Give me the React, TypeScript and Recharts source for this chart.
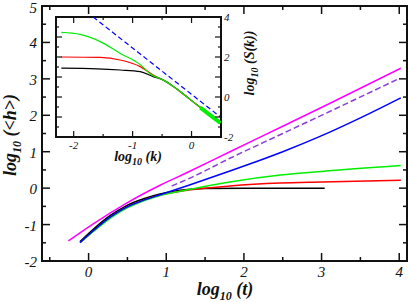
import React from 'react';
import { LineChart, Line, XAxis, YAxis, ReferenceArea } from 'recharts';

// ---------- main plot data: log10(t) vs log10(<h>) ----------
const magentaT = [-0.26, 0.06, 0.49, 0.92, 1.29, 1.82, 2.5, 3.11, 4.02];
const magentaH = [-1.45, -0.98, -0.41, 0.08, 0.45, 1.0, 1.7, 2.33, 3.29];
const purpleT = [1.07, 1.29, 1.82, 2.5, 3.2, 4.0];
const purpleH = [0.06, 0.26, 0.82, 1.5, 2.2, 3.01];
const blueT = [-0.11, 0.06, 0.28, 0.49, 0.71, 0.92, 1.29, 1.82, 2.2, 2.5, 2.98, 3.5, 4.02];
const blueH = [-1.49, -1.17, -0.79, -0.52, -0.33, -0.18, 0.08, 0.47, 0.76, 1.0, 1.42, 1.93, 2.48];
const greenT = [-0.11, 0.06, 0.28, 0.49, 0.71, 0.92, 1.29, 1.82, 2.47, 3.0, 4.02];
const greenH = [-1.5, -1.19, -0.82, -0.55, -0.35, -0.2, -0.04, 0.17, 0.36, 0.46, 0.62];
const redT = [-0.11, 0.06, 0.28, 0.49, 0.71, 0.92, 1.29, 1.82, 2.47, 3.0, 4.02];
const redH = [-1.5, -1.18, -0.8, -0.53, -0.33, -0.19, -0.05, 0.06, 0.14, 0.17, 0.22];
const blackT = [-0.11, 0.06, 0.28, 0.49, 0.71, 0.92, 1.18, 1.5, 2.0, 3.04];
const blackH = [-1.47, -1.13, -0.75, -0.48, -0.29, -0.16, -0.06, -0.01, 0.0, 0.0];

const mainXTicks = [-0.5, 0, 0.5, 1, 1.5, 2, 2.5, 3, 3.5, 4];
const mainYTicks = [-2, -1.5, -1, -0.5, 0, 0.5, 1, 1.5, 2, 2.5, 3, 3.5, 4, 4.5, 5];

// ---------- inset data: log10(k) vs log10(S(k)) ----------
const kBlack = [-2.21, -1.6, -1.21, -0.87, -0.65, -0.5, -0.25, 0, 0.25, 0.49];
const sBlack = [1.44, 1.41, 1.35, 1.27, 1.02, 0.88, 0.4, -0.18, -0.75, -1.3];
const kRed = [-2.21, -1.55, -1.21, -0.87, -0.65, -0.5, -0.25, 0, 0.25, 0.49];
const sRed = [2.0, 1.98, 1.85, 1.52, 1.1, 0.88, 0.4, -0.18, -0.75, -1.3];
const kGreen = [-2.21, -1.89, -1.55, -1.21, -0.87, -0.7, -0.5, -0.25, 0, 0.25, 0.49];
const sGreen = [3.23, 3.13, 2.77, 2.18, 1.62, 1.15, 0.88, 0.4, -0.18, -0.75, -1.3];
const kGreenTail = [0.15, 0.3, 0.49];
const sGreenTail = [-0.53, -0.87, -1.3];
const kBlueDash = [-1.67, 0.49];
const sBlueDash = [4.0, -1.0];

const insetXTicks = [-2, -1.5, -1, -0.5, 0];
const insetYTicks = [-2, -1.5, -1, -0.5, 0, 0.5, 1, 1.5, 2, 2.5, 3, 3.5, 4];

const zip = (xs: number[], ys: number[]) => xs.map((x, i) => ({ x, y: ys[i] }));

const FONT = '"Liberation Serif", "Times New Roman", serif';
const INK = '#111';

// main plot area (layout)
const M = { left: 42, right: 407, top: 6, bottom: 261 };
// inset plot area in inset-local coords
const I = { left: 16, right: 181, top: 7, bottom: 127 };

const isMajor = (v: number) => Number.isInteger(v);

const MainXTick = (props: any) => {
  const { x, payload } = props;
  const v = payload.value;
  const len = isMajor(v) ? 8 : 4;
  return (
    <g>
      <line x1={x} x2={x} y1={M.bottom} y2={M.bottom - len} stroke={INK} strokeWidth={1.5} />
      <line x1={x} x2={x} y1={M.top} y2={M.top + len} stroke={INK} strokeWidth={1.5} />
      {isMajor(v) && (
        <text x={x} y={M.bottom + 16} textAnchor="middle" fontFamily={FONT} fontStyle="italic" fontSize={15} fill={INK}>
          {String(v)}
        </text>
      )}
    </g>
  );
};

const MainYTick = (props: any) => {
  const { y, payload } = props;
  const v = payload.value;
  const len = isMajor(v) ? 8 : 4;
  return (
    <g>
      <line x1={M.left} x2={M.left + len} y1={y} y2={y} stroke={INK} strokeWidth={1.5} />
      <line x1={M.right} x2={M.right - len} y1={y} y2={y} stroke={INK} strokeWidth={1.5} />
      {isMajor(v) && (
        <text x={37} y={Math.max(y + 6, 13)} textAnchor="end" fontFamily={FONT} fontStyle="italic" fontSize={15} fill={INK}>
          {String(v)}
        </text>
      )}
    </g>
  );
};

const InsetXTick = (props: any) => {
  const { x, payload } = props;
  const v = payload.value;
  const len = isMajor(v) ? 6 : 3;
  return (
    <g>
      <line x1={x} x2={x} y1={I.bottom} y2={I.bottom - len} stroke={INK} strokeWidth={1.2} />
      <line x1={x} x2={x} y1={I.top} y2={I.top + len} stroke={INK} strokeWidth={1.2} />
      {isMajor(v) && (
        <text x={x} y={I.bottom + 12} textAnchor="middle" fontFamily={FONT} fontStyle="italic" fontSize={11} fill={INK}>
          {String(v)}
        </text>
      )}
    </g>
  );
};

const InsetYTick = (props: any) => {
  const { y, payload } = props;
  const v = payload.value;
  const major = isMajor(v);
  const len = major ? 6 : 3;
  return (
    <g>
      <line x1={I.left} x2={I.left + len} y1={y} y2={y} stroke={INK} strokeWidth={1.2} />
      <line x1={I.right} x2={I.right - len} y1={y} y2={y} stroke={INK} strokeWidth={1.2} />
      {major && v % 2 === 0 && (
        <text x={I.right + 3} y={y + 4} textAnchor="start" fontFamily={FONT} fontStyle="italic" fontSize={11} fill={INK}>
          {String(v)}
        </text>
      )}
    </g>
  );
};

export default function App() {
  return (
    <div style={{ position: 'absolute', left: 0, top: 0, width: 409, height: 302, background: '#fff' }}>
      <div style={{ position: 'absolute', left: 0, top: 0 }}>
        <LineChart width={409} height={302} margin={{ top: M.top, right: 409 - M.right, left: 0, bottom: 0 }}>
          <XAxis
            dataKey="x"
            type="number"
            domain={[-0.6, 4.1]}
            ticks={mainXTicks}
            interval={0}
            height={302 - M.bottom}
            axisLine={false}
            tickLine={false}
            tick={<MainXTick />}
            allowDataOverflow
          />
          <YAxis
            dataKey="y"
            type="number"
            domain={[-2, 5]}
            ticks={mainYTicks}
            interval={0}
            width={M.left}
            axisLine={false}
            tickLine={false}
            tick={<MainYTick />}
            allowDataOverflow
          />
          <Line data={zip(blackT, blackH)} dataKey="y" type="monotone" stroke="#000" strokeWidth={1.5} dot={false} isAnimationActive={false} />
          <Line data={zip(redT, redH)} dataKey="y" type="monotone" stroke="#ff0000" strokeWidth={1.5} dot={false} isAnimationActive={false} />
          <Line data={zip(greenT, greenH)} dataKey="y" type="monotone" stroke="#00ee00" strokeWidth={1.5} dot={false} isAnimationActive={false} />
          <Line data={zip(blueT, blueH)} dataKey="y" type="monotone" stroke="#0000ff" strokeWidth={1.5} dot={false} isAnimationActive={false} />
          <Line data={zip(purpleT, purpleH)} dataKey="y" type="monotone" stroke="#8a3ed8" strokeWidth={1.5} strokeDasharray="6 3" dot={false} isAnimationActive={false} />
          <Line data={zip(magentaT, magentaH)} dataKey="y" type="monotone" stroke="#ff00ff" strokeWidth={1.5} dot={false} isAnimationActive={false} />
          <ReferenceArea x1={-0.6} x2={4.1} y1={-2} y2={5} stroke={INK} strokeWidth={2} fill="none" fillOpacity={0} ifOverflow="visible" />
        </LineChart>
      </div>

      {/* inset background */}
      <div style={{ position: 'absolute', left: 56, top: 17, width: 165, height: 120, background: '#fff' }} />

      <div style={{ position: 'absolute', left: 40, top: 10 }}>
        <LineChart width={240} height={170} margin={{ top: I.top, right: 0, left: I.left, bottom: 0 }}>
          <XAxis
            dataKey="x"
            type="number"
            domain={[-2.3, 0.5]}
            ticks={insetXTicks}
            interval={0}
            height={170 - I.bottom}
            axisLine={false}
            tickLine={false}
            tick={<InsetXTick />}
            allowDataOverflow
          />
          <YAxis
            dataKey="y"
            type="number"
            orientation="right"
            domain={[-2, 4]}
            ticks={insetYTicks}
            interval={0}
            width={240 - I.right}
            axisLine={false}
            tickLine={false}
            tick={<InsetYTick />}
            allowDataOverflow
          />
          <Line data={zip(kBlack, sBlack)} dataKey="y" type="monotone" stroke="#000" strokeWidth={1.2} dot={false} isAnimationActive={false} />
          <Line data={zip(kRed, sRed)} dataKey="y" type="monotone" stroke="#ff0000" strokeWidth={1.2} dot={false} isAnimationActive={false} />
          <Line data={zip(kGreen, sGreen)} dataKey="y" type="monotone" stroke="#00ee00" strokeWidth={1.2} dot={false} isAnimationActive={false} />
          <Line data={zip(kGreenTail, sGreenTail)} dataKey="y" type="monotone" stroke="#00ee00" strokeWidth={4} dot={false} isAnimationActive={false} />
          <Line data={zip(kBlueDash, sBlueDash)} dataKey="y" type="linear" stroke="#0000ff" strokeWidth={1.2} strokeDasharray="5 3" dot={false} isAnimationActive={false} />
          <ReferenceArea x1={-2.3} x2={0.5} y1={-2} y2={4} stroke={INK} strokeWidth={2} fill="none" fillOpacity={0} ifOverflow="visible" />
        </LineChart>
      </div>

      {/* axis titles */}
      <svg width={409} height={302} style={{ position: 'absolute', left: 0, top: 0, pointerEvents: 'none' }}>
        <text x={225} y={295} textAnchor="middle" fontFamily={FONT} fontWeight="bold" fontStyle="italic" fontSize={18} fill={INK}>
          log<tspan fontSize={12} dy={5}>10</tspan>
          <tspan dy={-5}> (t)</tspan>
        </text>
        <text transform="translate(16,135) rotate(-90)" textAnchor="middle" fontFamily={FONT} fontWeight="bold" fontStyle="italic" fontSize={18} fill={INK}>
          log<tspan fontSize={12} dy={5}>10</tspan>
          <tspan dy={-5}> (&lt;h&gt;)</tspan>
        </text>
        <text x={138} y={161} textAnchor="middle" fontFamily={FONT} fontWeight="bold" fontStyle="italic" fontSize={14} fill={INK}>
          log<tspan fontSize={10} dy={4}>10</tspan>
          <tspan dy={-4}> (k)</tspan>
        </text>
        <text transform="translate(254,63) rotate(-90)" textAnchor="middle" fontFamily={FONT} fontWeight="bold" fontStyle="italic" fontSize={14} fill={INK}>
          log<tspan fontSize={10} dy={4}>10</tspan>
          <tspan dy={-4}> (S(k))</tspan>
        </text>
      </svg>
    </div>
  );
}
